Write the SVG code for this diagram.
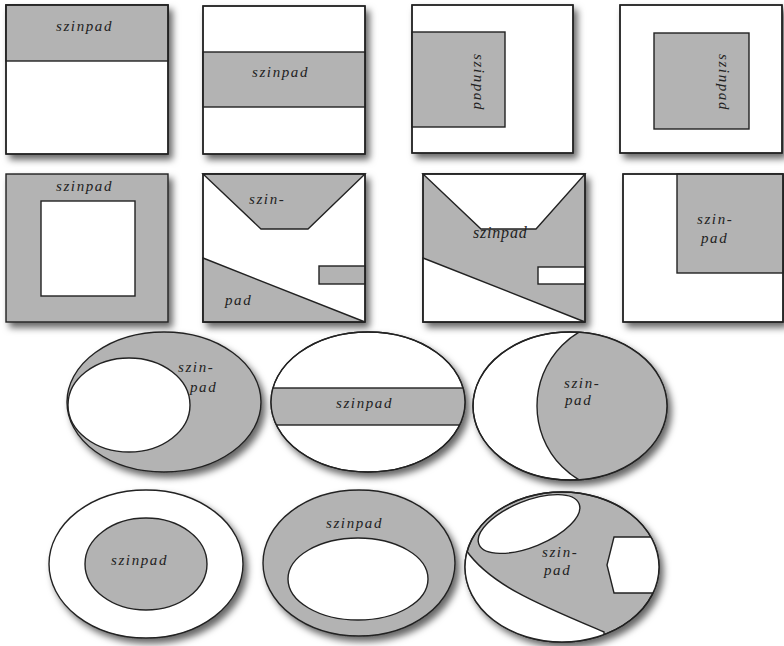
<svg xmlns="http://www.w3.org/2000/svg" width="784" height="646" viewBox="0 0 784 646">
<defs>
<style>
.g{fill:#b3b3b3}
.w{fill:#ffffff}
.s{stroke:#222;stroke-width:1.4;fill:none}
.gs{fill:#b3b3b3;stroke:#222;stroke-width:1.4}
.ws{fill:#ffffff;stroke:#222;stroke-width:1.4}
.t{font-family:"Liberation Serif","DejaVu Serif",serif;font-style:italic;font-size:15px;letter-spacing:1.6px;fill:#222}
</style>
<filter id="sh" x="-10%" y="-10%" width="125%" height="125%">
<feDropShadow dx="4" dy="5" stdDeviation="3.5" flood-color="#000" flood-opacity="0.6"/>
</filter>
<clipPath id="c2"><ellipse cx="368" cy="402" rx="97" ry="70"/></clipPath>
<clipPath id="c3"><ellipse cx="570" cy="406" rx="97" ry="74"/></clipPath>
<clipPath id="c6"><ellipse cx="562" cy="567" rx="97" ry="75"/></clipPath>
</defs>
<rect width="784" height="646" fill="#ffffff"/>

<g id="p1">
<rect x="6" y="5" width="162" height="149" class="ws" filter="url(#sh)"/>
<rect x="6" y="5" width="162" height="56" class="gs"/>
<rect x="6" y="5" width="162" height="149" class="s"/>
<text x="56" y="31" class="t">szinpad</text>
</g>

<g id="p2">
<rect x="203" y="6" width="162" height="148" class="ws" filter="url(#sh)"/>
<rect x="203" y="52" width="162" height="55" class="gs"/>
<rect x="203" y="6" width="162" height="148" class="s"/>
<text x="252" y="77" class="t">szinpad</text>
</g>

<g id="p3">
<rect x="412" y="5" width="161" height="148" class="ws" filter="url(#sh)"/>
<rect x="412" y="32" width="93" height="95" class="gs"/>
<rect x="412" y="5" width="161" height="148" class="s"/>
<text x="0" y="0" class="t" transform="translate(474 54) rotate(90)">szinpad</text>
</g>

<g id="p4">
<rect x="620" y="5" width="162" height="148" class="ws" filter="url(#sh)"/>
<rect x="654" y="33" width="95" height="96" class="gs"/>
<rect x="620" y="5" width="162" height="148" class="s"/>
<text x="0" y="0" class="t" transform="translate(719 54) rotate(90)">szinpad</text>
</g>

<g id="p5">
<rect x="6" y="174" width="162" height="148" class="gs" filter="url(#sh)"/>
<rect x="41" y="201" width="94" height="95" class="ws"/>
<text x="56" y="191" class="t">szinpad</text>
</g>

<g id="p6">
<rect x="203" y="174" width="162" height="148" class="ws" filter="url(#sh)"/>
<polygon points="203,174 365,174 308,229 261,229" class="gs"/>
<polygon points="203,258 365,322 203,322" class="gs"/>
<rect x="319" y="266" width="46" height="18" class="gs"/>
<rect x="203" y="174" width="162" height="148" class="s"/>
<text x="249" y="204" class="t">szin-</text>
<text x="225" y="305" class="t">pad</text>
</g>

<g id="p7">
<rect x="423" y="174" width="162" height="148" class="gs" filter="url(#sh)"/>
<polygon points="423,174 585,174 536,229 481,229" class="ws"/>
<polygon points="423,258 585,322 423,322" class="ws"/>
<rect x="538" y="267" width="47" height="17" class="ws"/>
<rect x="423" y="174" width="162" height="148" class="s"/>
<text x="473" y="238" class="t" style="letter-spacing:0.8px;font-size:16px">szinpad</text>
</g>

<g id="p8">
<rect x="623" y="174" width="160" height="148" class="ws" filter="url(#sh)"/>
<rect x="677" y="174" width="106" height="99" class="gs"/>
<rect x="623" y="174" width="160" height="148" class="s"/>
<text x="697" y="224" class="t">szin-</text>
<text x="701" y="243" class="t">pad</text>
</g>

<g id="e1">
<ellipse cx="164" cy="402" rx="97" ry="70" class="gs" filter="url(#sh)"/>
<ellipse cx="129" cy="405" rx="61" ry="47" class="ws"/>
<text x="178" y="372" class="t">szin-</text>
<text x="190" y="392" class="t">pad</text>
</g>

<g id="e2">
<ellipse cx="368" cy="402" rx="97" ry="70" class="ws" filter="url(#sh)"/>
<g clip-path="url(#c2)">
<rect x="260" y="388" width="220" height="37" class="gs"/>
</g>
<ellipse cx="368" cy="402" rx="97" ry="70" class="s"/>
<text x="336" y="408" class="t">szinpad</text>
</g>

<g id="e3">
<ellipse cx="570" cy="406" rx="97" ry="74" class="ws" filter="url(#sh)"/>
<g clip-path="url(#c3)">
<circle cx="623" cy="406" r="86" class="gs"/>
</g>
<ellipse cx="570" cy="406" rx="97" ry="74" class="s"/>
<text x="564" y="388" class="t">szin-</text>
<text x="565" y="405" class="t">pad</text>
</g>

<g id="e4">
<ellipse cx="146" cy="564" rx="97" ry="74" class="ws" filter="url(#sh)"/>
<ellipse cx="146" cy="564" rx="61" ry="46" class="gs"/>
<text x="111" y="565" class="t">szinpad</text>
</g>

<g id="e5">
<ellipse cx="359" cy="563" rx="96" ry="73" class="gs" filter="url(#sh)"/>
<ellipse cx="358" cy="579" rx="70" ry="41" class="ws"/>
<text x="326" y="528" class="t">szinpad</text>
</g>

<g id="e6">
<ellipse cx="562" cy="567" rx="97" ry="75" class="gs" filter="url(#sh)"/>
<g clip-path="url(#c6)">
<ellipse cx="529" cy="524" rx="54" ry="23" transform="rotate(-22 529 524)" class="ws"/>
<path d="M 440 548 L 466 550 C 490 585 540 605 604 632 L 604 660 L 440 660 Z" class="ws"/>
<polygon points="614,537 670,537 670,593 614,593 607,565" class="ws"/>
</g>
<ellipse cx="562" cy="567" rx="97" ry="75" class="s"/>
<text x="542" y="557" class="t">szin-</text>
<text x="544" y="575" class="t">pad</text>
</g>
</svg>
